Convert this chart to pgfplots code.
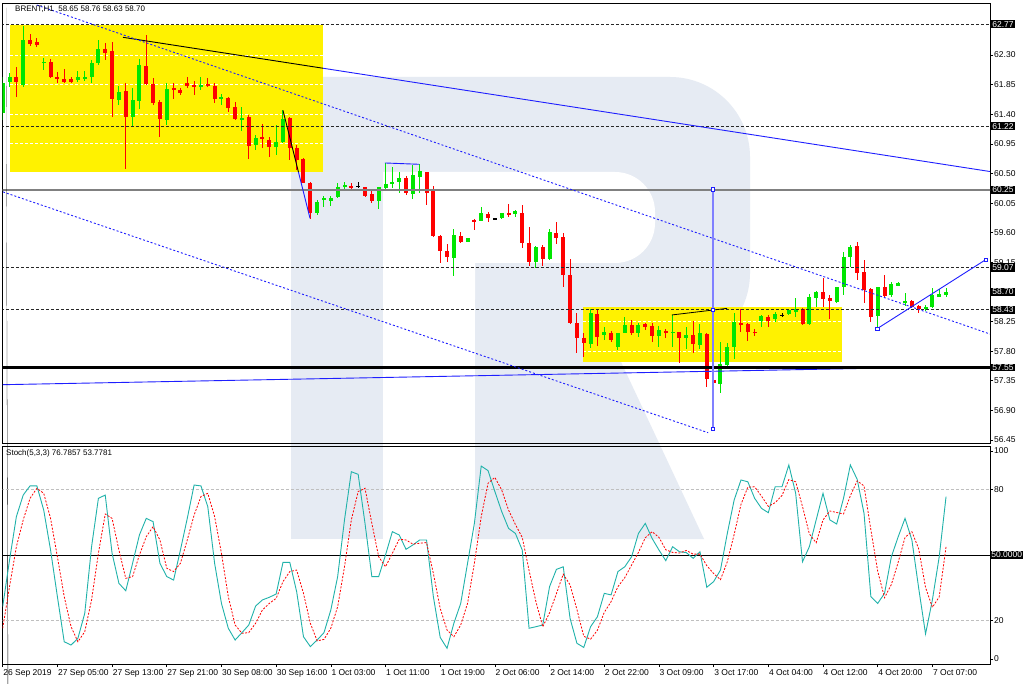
\documentclass[border=0pt]{standalone}
\usepackage{pgfplots}
\pgfplotsset{compat=1.18}
\usepackage{pgfplotstable}
\usepackage{fontspec}
\setmainfont{Liberation Sans}
\definecolor{bull}{RGB}{0,230,0}
\definecolor{bear}{RGB}{255,0,0}
\definecolor{wm}{RGB}{230,235,243}
\definecolor{stk}{RGB}{32,178,170}
\definecolor{lvl}{RGB}{40,40,40}
\definecolor{tl}{RGB}{30,30,255}
\definecolor{tlv}{RGB}{128,128,255}
\newcommand\lbl{\fontsize{8.5}{10}\selectfont}

\pgfplotstableread{
i o h l c
0 61.42 61.97 61.31 61.88
1 61.89 62.03 61.82 61.97
3 61.85 62.74 61.82 62.53
6 62.18 62.26 62.07 62.20
11 61.92 62.06 61.89 61.97
12 61.94 62.06 61.91 61.97
13 61.97 62.23 61.88 62.18
14 62.18 62.53 62.15 62.39
17 61.62 61.83 61.54 61.74
19 61.36 61.80 61.21 61.62
20 61.60 62.24 61.48 62.15
24 61.31 61.88 61.24 61.79
29 61.82 61.97 61.77 61.85
32 61.63 61.71 61.54 61.67
35 61.31 61.51 61.15 61.34
37 60.93 61.09 60.86 61.04
40 60.90 61.24 60.78 60.98
41 60.98 61.47 60.96 61.33
46 59.90 60.10 59.87 60.07
47 60.10 60.16 59.99 60.13
48 60.08 60.16 60.01 60.13
49 60.14 60.36 60.13 60.29
50 60.29 60.37 60.26 60.32
55 60.08 60.30 59.96 60.29
56 60.28 60.66 60.26 60.34
57 60.34 60.60 60.28 60.37
58 60.37 60.52 60.20 60.43
60 60.19 60.63 60.11 60.48
61 60.45 60.64 60.20 60.54
66 59.22 59.66 58.94 59.57
68 59.46 59.52 59.46 59.52
70 59.78 59.99 59.78 59.90
73 59.82 59.90 59.81 59.90
75 59.88 59.95 59.84 59.93
78 59.15 59.40 59.07 59.38
80 59.20 59.66 59.19 59.61
86 57.91 58.44 57.85 58.38
88 58.05 58.17 57.97 58.09
90 57.86 58.08 57.82 58.08
91 58.08 58.32 58.08 58.20
93 58.07 58.23 58.02 58.20
96 58.03 58.18 57.86 58.12
98 58.08 58.35 57.86 58.09
100 58.00 58.17 57.83 58.04
102 57.89 58.21 57.83 58.08
105 57.30 57.94 57.16 57.60
106 57.59 57.92 57.56 57.86
107 57.86 58.38 57.68 58.24
111 58.26 58.35 58.17 58.33
113 58.29 58.39 58.24 58.36
115 58.37 58.44 58.35 58.43
116 58.40 58.61 58.32 58.44
118 58.21 58.67 58.20 58.62
119 58.61 58.72 58.47 58.70
122 58.55 58.78 58.53 58.78
123 58.78 59.31 58.66 59.23
124 59.23 59.41 59.08 59.38
128 58.33 58.78 58.15 58.78
130 58.66 58.85 58.62 58.82
131 58.79 58.85 58.79 58.84
132 58.53 58.68 58.49 58.56
135 58.44 58.50 58.41 58.47
136 58.47 58.76 58.46 58.65
137 58.62 58.75 58.62 58.67
138 58.65 58.76 58.63 58.70
}\bulltab

\pgfplotstableread{
i o h l c
2 61.97 62.12 61.67 61.89
4 62.53 62.62 62.44 62.47
5 62.50 62.56 62.42 62.45
7 62.20 62.24 61.96 61.97
8 61.97 62.04 61.88 61.94
9 61.94 62.09 61.88 61.89
10 61.94 61.97 61.88 61.89
15 62.39 62.48 62.23 62.33
16 62.36 62.50 61.36 61.63
18 61.75 61.88 60.57 61.36
21 62.14 62.61 61.85 61.86
22 61.86 61.95 61.54 61.57
23 61.59 61.62 61.06 61.33
25 61.80 61.88 61.63 61.77
26 61.77 61.80 61.69 61.72
27 61.88 61.97 61.80 61.83
28 61.85 61.91 61.69 61.82
30 61.86 61.95 61.82 61.83
31 61.83 61.88 61.57 61.63
33 61.65 61.67 61.44 61.50
34 61.51 61.59 61.31 61.33
36 61.36 61.39 60.72 60.92
38 61.06 61.25 60.89 61.03
39 61.01 61.06 60.75 60.90
42 61.34 61.36 60.71 60.89
43 60.89 60.93 60.55 60.71
44 60.72 60.74 60.35 60.36
45 60.36 60.37 59.81 59.90
51 60.31 60.36 60.26 60.29
53 60.29 60.30 60.14 60.16
54 60.19 60.25 60.05 60.08
59 60.43 60.46 60.17 60.20
62 60.52 60.53 60.02 60.20
63 60.24 60.31 59.54 59.55
64 59.55 59.57 59.14 59.32
65 59.32 59.43 59.16 59.23
67 59.55 59.61 59.44 59.46
69 59.79 59.81 59.64 59.76
71 59.89 59.92 59.76 59.82
74 59.90 60.04 59.84 59.87
76 59.90 60.02 59.37 59.44
77 59.44 59.69 59.09 59.15
79 59.38 59.41 59.09 59.20
81 59.60 59.76 59.43 59.52
82 59.53 59.60 58.77 58.96
83 58.96 59.20 58.21 58.23
84 58.23 58.38 57.77 58.00
85 58.00 58.08 57.71 57.92
87 58.36 58.44 57.88 58.02
89 58.08 58.11 57.94 57.97
92 58.19 58.27 58.05 58.07
94 58.21 58.23 58.12 58.17
95 58.19 58.23 57.94 58.03
97 58.11 58.14 58.00 58.08
99 58.09 58.09 57.62 58.00
101 58.04 58.26 57.77 57.91
103 58.06 58.08 57.26 57.38
104 57.36 57.41 56.62 57.32
108 58.23 58.44 58.09 58.20
109 58.21 58.23 57.95 58.09
110 58.09 58.14 58.03 58.08
112 58.32 58.35 58.17 58.26
117 58.44 58.46 58.20 58.21
120 58.70 58.91 58.47 58.59
121 58.61 58.65 58.29 58.56
125 59.40 59.46 58.88 58.99
126 59.00 59.19 58.53 58.73
127 58.74 58.76 58.24 58.32
129 58.78 58.96 58.62 58.64
133 58.56 58.58 58.46 58.47
134 58.49 58.50 58.38 58.44
}\beartab

\pgfplotstableread{
i o h l c
52 60.31 60.37 60.28 60.31
72 59.81 59.82 59.79 59.81
114 58.35 58.38 58.32 58.35
}\dojitab

\pgfplotstableread{
i k d
0 26.3 16.4
1 47.7 35.5
2 67.6 53.8
3 77.5 66.1
4 81.7 76.0
5 81.7 80.6
6 70.6 78.3
7 52.3 66.8
8 30.9 49.2
9 10.2 30.9
10 8.7 17.1
11 11.8 10.2
12 23.2 14.8
13 53.8 29.4
14 76.0 50.8
15 77.5 68.8
16 50.8 66.8
17 37.0 52.3
18 33.6 39.3
19 46.2 40.1
20 59.2 50.0
21 66.8 58.4
22 65.3 63.0
23 46.2 56.9
24 40.1 43.9
25 38.5 42.4
26 52.3 46.2
27 66.8 56.9
28 82.1 68.3
29 81.7 76.8
30 72.2 78.3
31 46.2 67.6
32 27.8 50.8
33 16.4 30.9
34 11.0 17.9
35 14.4 14.1
36 17.9 14.4
37 26.6 18.7
38 29.4 24.8
39 30.6 27.8
40 32.1 30.1
41 46.6 37.8
42 46.6 42.4
43 33.2 43.1
44 12.5 32.4
45 8.0 18.7
46 11.0 10.6
47 14.4 11.3
48 24.8 16.4
49 40.1 26.3
50 66.1 44.6
51 88.2 66.1
52 87.0 79.1
53 64.5 80.6
54 40.1 64.5
55 40.1 49.2
56 50.0 44.6
57 60.7 50.8
58 59.2 57.2
59 52.6 56.9
60 54.6 55.0
61 56.9 55.4
62 56.9 55.7
63 30.9 41.6
64 12.2 25.5
65 7.2 15.6
66 18.7 12.5
67 27.8 17.9
68 46.2 27.8
69 64.5 46.2
70 90.8 67.6
71 88.7 82.9
72 79.1 85.6
73 69.9 79.8
74 62.2 70.6
75 59.9 64.0
76 52.3 58.1
77 16.4 42.9
78 17.1 28.6
79 17.9 17.1
80 35.5 23.5
81 43.4 32.3
82 44.6 41.2
83 20.9 36.3
84 9.5 25.0
85 7.6 12.7
86 17.1 11.4
87 21.7 15.5
88 32.4 23.7
89 31.7 28.6
90 42.4 35.5
91 44.6 39.6
92 49.2 45.4
93 59.9 51.2
94 64.5 57.9
95 57.6 60.7
96 52.3 58.1
97 47.4 52.4
98 53.8 51.2
99 51.5 50.9
100 51.1 52.1
101 48.5 50.4
102 51.5 50.4
103 35.2 45.1
104 37.8 41.5
105 43.1 38.7
106 59.9 46.9
107 75.2 59.4
108 84.4 73.2
109 83.6 81.1
110 76.0 81.3
111 71.4 77.0
112 69.4 72.3
113 81.3 74.0
114 81.3 77.3
115 91.3 84.6
116 78.3 83.6
117 46.9 72.2
118 53.8 59.7
119 66.1 55.6
120 78.3 66.1
121 66.1 70.2
122 64.2 69.5
123 76.0 68.8
124 91.3 77.2
125 84.7 84.0
126 69.1 81.7
127 30.9 61.6
128 27.8 42.6
129 32.4 30.4
130 49.2 36.5
131 58.4 46.7
132 66.8 58.1
133 56.9 60.7
134 34.7 52.8
135 13.8 35.1
136 29.4 26.0
137 49.2 30.8
138 76.8 53.8
}\stochtab

\tikzset{boxlbl/.style={fill=black, text=white, anchor=west, inner xsep=1.2pt, inner ysep=1pt, font=\lbl}}

\begin{document}
\begin{tikzpicture}
\path[use as bounding box] (0,0) rectangle (1024pt,683pt);
\fill[white] (0,0) rectangle (1024pt,683pt);
% background watermark (logo)
\begin{scope}[x=1pt,y=-1pt,shift={(0,683pt)}]
\fill[wm] (291,77) [rounded corners=80pt] -- (750,77) -- (750,353) [sharp corners] -- (291,353) -- cycle;
\fill[white] (383,172) [rounded corners=40pt] -- (655,172) -- (655,263) [sharp corners] -- (475,263) -- (475,353) -- (383,353) -- cycle;
\fill[wm] (291,77) rectangle (383,539);
\fill[wm] (475,300) -- (592,300) -- (704,539) -- (475,539) -- cycle;
\end{scope}

% ---------------- main price panel ----------------
\begin{axis}[
  at={(2.5pt,240pt)}, anchor=south west,
  width=987.5pt, height=440pt, scale only axis,
  xmin=-0.03, xmax=144.43, ymin=56.403, ymax=63.091,
  clip mode=individual,
  axis line style={draw=black, line width=0.7pt},
  xtick=\empty,
  ytick={56.45,56.90,57.35,57.80,58.25,58.70,59.15,59.60,60.05,60.50,60.95,61.40,61.85,62.30},
  yticklabels={56.45,56.90,57.35,57.80,58.25,{},59.15,59.60,60.05,60.50,60.95,61.40,61.85,62.30},
  ytick pos=right, tick align=outside, major tick length=3pt,
  tick style={black, line width=0.6pt},
  yticklabel style={font=\lbl, anchor=west, inner sep=0pt, xshift=1pt},
]
\fill[yellow] (axis cs:1.07,62.757) rectangle (axis cs:46.85,60.52);
\fill[yellow] (axis cs:84.9,58.47) rectangle (axis cs:122.8,57.64);
\addplot[white, dash pattern=on 3pt off 2pt, line width=0.8pt, forget plot] coordinates {(1.07,62.30) (46.85,62.30)};
\addplot[white, dash pattern=on 3pt off 2pt, line width=0.8pt, forget plot] coordinates {(1.07,61.85) (46.85,61.85)};
\addplot[white, dash pattern=on 3pt off 2pt, line width=0.8pt, forget plot] coordinates {(1.07,61.40) (46.85,61.40)};
\addplot[white, dash pattern=on 3pt off 2pt, line width=0.8pt, forget plot] coordinates {(1.07,60.95) (46.85,60.95)};
\addplot[white, dash pattern=on 3pt off 2pt, line width=0.8pt, forget plot] coordinates {(84.9,58.25) (122.8,58.25)};
\addplot[white, dash pattern=on 3pt off 2pt, line width=0.8pt, forget plot] coordinates {(84.9,57.80) (122.8,57.80)};

% candles: wicks
\addplot[draw=none, mark=none, forget plot, error bars/.cd, y dir=both, y explicit, error mark=none,
  error bar style={draw=bull, line width=1pt}]
  table[x=i, y expr={(\thisrow{h}+\thisrow{l})/2}, y error expr={(\thisrow{h}-\thisrow{l})/2}] {\bulltab};
\addplot[draw=none, mark=none, forget plot, error bars/.cd, y dir=both, y explicit, error mark=none,
  error bar style={draw=bear, line width=1pt}]
  table[x=i, y expr={(\thisrow{h}+\thisrow{l})/2}, y error expr={(\thisrow{h}-\thisrow{l})/2}] {\beartab};
\addplot[draw=none, mark=none, forget plot, error bars/.cd, y dir=both, y explicit, error mark=none,
  error bar style={draw=black, line width=1pt}]
  table[x=i, y expr={(\thisrow{h}+\thisrow{l})/2}, y error expr={(\thisrow{h}-\thisrow{l})/2}] {\dojitab};
% candles: bodies
\addplot[draw=none, mark=none, forget plot, error bars/.cd, y dir=both, y explicit, error mark=none,
  error bar style={draw=bull, line width=4pt}]
  table[x=i, y expr={(\thisrow{o}+\thisrow{c})/2}, y error expr={max(abs(\thisrow{c}-\thisrow{o})/2,0.006)}] {\bulltab};
\addplot[draw=none, mark=none, forget plot, error bars/.cd, y dir=both, y explicit, error mark=none,
  error bar style={draw=bear, line width=4pt}]
  table[x=i, y expr={(\thisrow{o}+\thisrow{c})/2}, y error expr={max(abs(\thisrow{c}-\thisrow{o})/2,0.006)}] {\beartab};
\addplot[draw=none, mark=none, forget plot, error bars/.cd, y dir=both, y explicit, error mark=none,
  error bar style={draw=black, line width=4pt}]
  table[x=i, y expr={(\thisrow{o}+\thisrow{c})/2}, y error expr={max(abs(\thisrow{c}-\thisrow{o})/2,0.006)}] {\dojitab};

% horizontal levels
\addplot[lvl, dash pattern=on 3pt off 2pt, line width=0.8pt] coordinates {(-1,62.77) (146,62.77)};
\addplot[lvl, dash pattern=on 3pt off 2pt, line width=0.8pt] coordinates {(-1,61.22) (146,61.22)};
\addplot[lvl, dash pattern=on 3pt off 2pt, line width=0.8pt] coordinates {(-1,59.07) (146,59.07)};
\addplot[lvl, dash pattern=on 3pt off 2pt, line width=0.8pt] coordinates {(-1,58.43) (146,58.43)};
\addplot[gray, line width=1.4pt] coordinates {(-1,60.25) (146,60.25)};
% trend lines
\addplot[tl, line width=0.9pt] coordinates {(0.04,57.29) (127.3,57.54)};
\addplot[black, line width=2.2pt] coordinates {(-1,57.55) (146,57.55)};
\addplot[tl, line width=0.9pt] coordinates {(46.85,62.10) (144.43,60.53)};
\addplot[black, line width=0.9pt] coordinates {(17.6,62.57) (46.85,62.10)};
\addplot[tl, dash pattern=on 2pt off 2pt, line width=0.9pt] coordinates {(5.0,63.06) (144.43,58.06)};
\addplot[tl, dash pattern=on 2pt off 2pt, line width=0.9pt] coordinates {(0.04,60.22) (103.2,56.56)};
\addplot[black, line width=0.9pt] coordinates {(41.0,61.46) (43.27,60.52)};
\addplot[tl, line width=0.9pt] coordinates {(43.27,60.52) (44.95,59.82)};
\addplot[tl, line width=0.9pt] coordinates {(55.9,60.66) (60.9,60.64)};
\addplot[black, line width=0.8pt] coordinates {(97.9,58.35) (105.96,58.45)};
\addplot[tlv, line width=1.6pt] coordinates {(103.9,60.26) (103.9,56.62)};
\addplot[tl, line width=0.9pt] coordinates {(127.9,58.14) (143.8,59.19)};
\addplot[only marks, mark=square*, mark size=1.8pt, mark options={draw=tl, fill=white, line width=0.6pt}]
  coordinates {(103.9,60.26) (103.9,58.43) (103.9,56.62) (127.9,58.14) (143.8,59.19)};

% title
\fill[black] (rel axis cs:0,1) ++(3.5pt,-4.5pt) -- ++(5pt,0) -- ++(-2.5pt,-3pt) -- cycle;
\node[anchor=west, font=\fontsize{8}{9.5}\selectfont, inner sep=0pt] at (rel axis cs:0,1) [xshift=12.5pt, yshift=-6pt] {BRENT,H1\ \ 58.65 58.76 58.63 58.70};
\end{axis}

% price boxes on the right (drawn above the tick labels)
\node[boxlbl] at (991pt,658.9pt) {62.77};
\node[boxlbl] at (991pt,556.9pt) {61.22};
\node[boxlbl] at (991pt,493.1pt) {60.25};
\node[boxlbl] at (991pt,415.5pt) {59.07};
\node[boxlbl] at (991pt,391.1pt) {58.70};
\node[boxlbl] at (991pt,373.4pt) {58.43};
\node[boxlbl] at (991pt,315.5pt) {57.55};

% ---------------- stochastic panel ----------------
\begin{axis}[
  at={(2.5pt,19pt)}, anchor=south west,
  width=987.5pt, height=218pt, scale only axis,
  xmin=-0.03, xmax=144.43, ymin=0, ymax=100,
  clip mode=individual,
  axis line style={draw=black, line width=0.7pt},
  xtick={0,8,...,136},
  xticklabels={26 Sep 2019,27 Sep 05:00,27 Sep 13:00,27 Sep 21:00,30 Sep 08:00,30 Sep 16:00,1 Oct 03:00,1 Oct 11:00,1 Oct 19:00,2 Oct 06:00,2 Oct 14:00,2 Oct 22:00,3 Oct 09:00,3 Oct 17:00,4 Oct 04:00,4 Oct 12:00,4 Oct 20:00,7 Oct 07:00},
  xtick pos=left, ytick pos=right,
  tick align=outside, major tick length=3pt,
  tick style={black, line width=0.6pt},
  ytick={20,80}, yticklabels={20,80},
  extra y ticks={97.7,2.3}, extra y tick labels={100,0},
  xticklabel style={font=\lbl, anchor=north west, inner sep=0pt, xshift=0.5pt, yshift=-2pt},
  yticklabel style={font=\lbl, anchor=west, inner sep=0pt, xshift=1pt},
]
\addplot[gray!50, dash pattern=on 3pt off 2pt, line width=0.8pt] coordinates {(-1,80) (146,80)};
\addplot[gray!50, dash pattern=on 3pt off 2pt, line width=0.8pt] coordinates {(-1,20) (146,20)};
\addplot[black, line width=0.8pt] coordinates {(-1,50) (146,50)};
\addplot[stk, line width=0.9pt] table[x=i, y=k] {\stochtab};
\addplot[red, dash pattern=on 2pt off 1.5pt, line width=0.8pt] table[x=i, y=d] {\stochtab};
\node[boxlbl] at (axis cs:144.43,50) {50.0000};
\node[anchor=west, font=\fontsize{8}{9.5}\selectfont, inner sep=0pt] at (rel axis cs:0,1) [xshift=3.5pt, yshift=-7pt] {Stoch(5,3,3) 76.7857 53.7781};
\end{axis}
\end{tikzpicture}
\end{document}
